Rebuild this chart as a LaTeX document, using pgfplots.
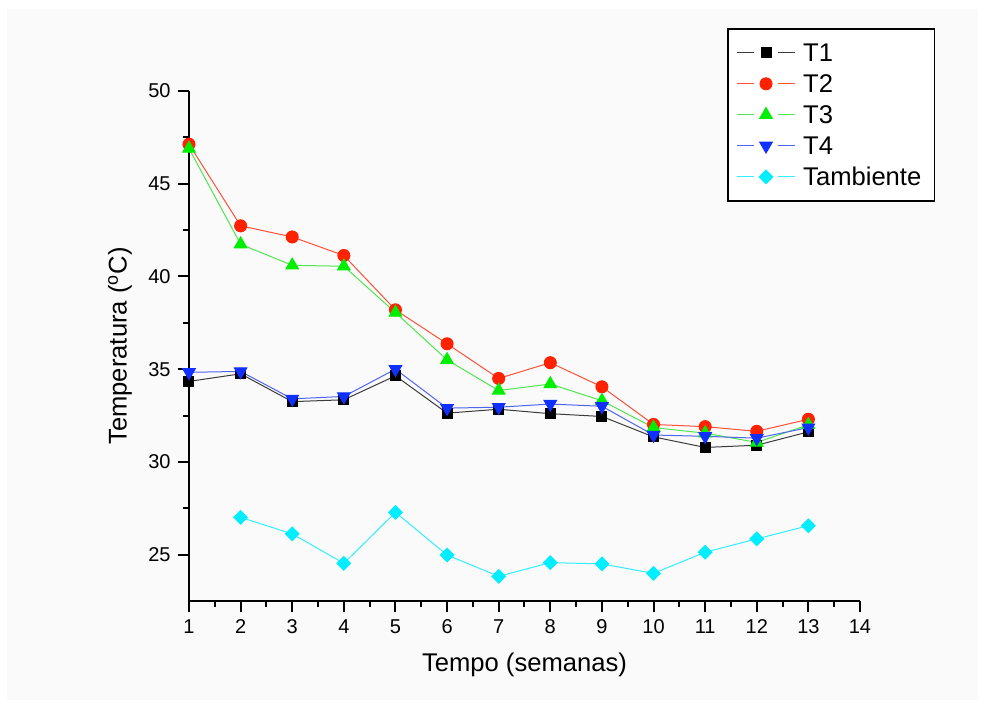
\documentclass[border=0pt]{standalone}
\usepackage{fontspec}
\setmainfont{Liberation Sans}
\usepackage{pgfplots}
\usepackage{pgfplotstable}
\pgfplotsset{compat=1.18}
\definecolor{bgc}{HTML}{FAFAFA}
\definecolor{cT1}{HTML}{000000}
\definecolor{lT1}{HTML}{3C3C3C}
\definecolor{cT2}{HTML}{FF2200}
\definecolor{lT2}{HTML}{FF5038}
\definecolor{cT3}{HTML}{00EE00}
\definecolor{lT3}{HTML}{50E650}
\definecolor{cT4}{HTML}{1030FF}
\definecolor{lT4}{HTML}{5064F0}
\definecolor{cTa}{HTML}{00EEFF}
\definecolor{lTa}{HTML}{30F0FF}

\pgfplotstableread{
x T1 T2 T3 T4
1 34.34 47.13 46.90 34.83
2 34.75 42.73 41.74 34.88
3 33.25 42.13 40.60 33.40
4 33.35 41.13 40.55 33.53
5 34.64 38.20 38.05 35.00
6 32.63 36.37 35.50 32.90
7 32.84 34.50 33.85 32.95
8 32.60 35.35 34.20 33.12
9 32.45 34.05 33.30 33.00
10 31.35 32.02 31.85 31.45
11 30.78 31.90 31.55 31.38
12 30.90 31.65 31.05 31.28
13 31.62 32.30 32.00 31.85
}\datT

\pgfplotstableread{
x Ta
2 27.01
3 26.12
4 24.53
5 27.28
6 24.98
7 23.83
8 24.57
9 24.50
10 23.99
11 25.13
12 25.85
13 26.56
}\datA

\begin{document}
\begin{tikzpicture}
\useasboundingbox (-94.5pt,-53.5pt) rectangle (399pt,300.5pt);
\fill[white] (-94.5pt,-53.5pt) rectangle (399pt,300.5pt);
\fill[bgc] (-91pt,-49.5pt) rectangle (394.5pt,296pt);
\begin{axis}[
  at={(0,0)}, anchor=south west,
  scale only axis, width=335.5pt, height=255pt,
  axis lines*=left,
  axis line style={line width=1.2pt},
  xmin=1, xmax=14, ymin=22.5, ymax=50,
  xtick={1,...,14}, minor x tick num=1,
  ytick={25,30,...,50}, minor y tick num=1,
  tick align=outside,
  major tick length=5.7pt, minor tick length=3pt,
  tick style={black, line width=1pt},
  tick label style={font=\fontsize{10}{12}\selectfont},
  /pgf/number format/assume math mode=true,
  clip=false,
  xlabel={Tempo (semanas)},
  ylabel={Temperatura (\textsuperscript{o}C)},
  label style={font=\fontsize{12.8}{15}\selectfont},
  xlabel style={at={([yshift=-32pt]axis description cs:0.5,0)}, anchor=center},
  ylabel style={at={([xshift=-34.5pt]axis description cs:0,0.5)}, anchor=center},
  legend style={at={(axis description cs:0.8018,1.1235)}, anchor=north west,
    draw=black, line width=0.8pt, fill=white,
    inner xsep=4.5pt, inner ysep=6.5pt, row sep=4.5pt, column sep=2pt,
    font=\fontsize{12.8}{15}\selectfont,
    nodes={inner xsep=2pt, inner ysep=1pt, text height=9pt, text depth=0pt}},
  legend cell align=left,
  legend image code/.code={
    \draw[mark=none,line width=0.5pt] (0pt,0pt) -- (8.3pt,0pt);
    \draw[mark=none,line width=0.5pt] (20.4pt,0pt) -- (28.7pt,0pt);
    \draw[only marks] plot coordinates {(14.35pt,0pt)};
  },
]
\addplot[lT1, line width=0.5pt, mark=square*, mark size=2.5pt, mark options={draw=cT1, fill=cT1}] table[x=x, y=T1] {\datT};
\addlegendentry{T1}
\addplot[lT2, line width=0.5pt, mark=*, mark size=3pt, mark options={draw=cT2, fill=cT2}] table[x=x, y=T2] {\datT};
\addlegendentry{T2}
\addplot[lT3, line width=0.5pt, mark=triangle*, mark size=3.6pt, mark options={draw=cT3, fill=cT3}] table[x=x, y=T3] {\datT};
\addlegendentry{T3}
\addplot[lT4, line width=0.5pt, mark=triangle*, mark size=3.6pt, mark options={draw=cT4, fill=cT4, rotate=180}] table[x=x, y=T4] {\datT};
\addlegendentry{T4}
\addplot[lTa, line width=0.5pt, mark=square*, mark size=2.4pt, mark options={draw=cTa, fill=cTa, rotate=45}] table[x=x, y=Ta] {\datA};
\addlegendentry{Tambiente}
\end{axis}
\end{tikzpicture}
\end{document}
